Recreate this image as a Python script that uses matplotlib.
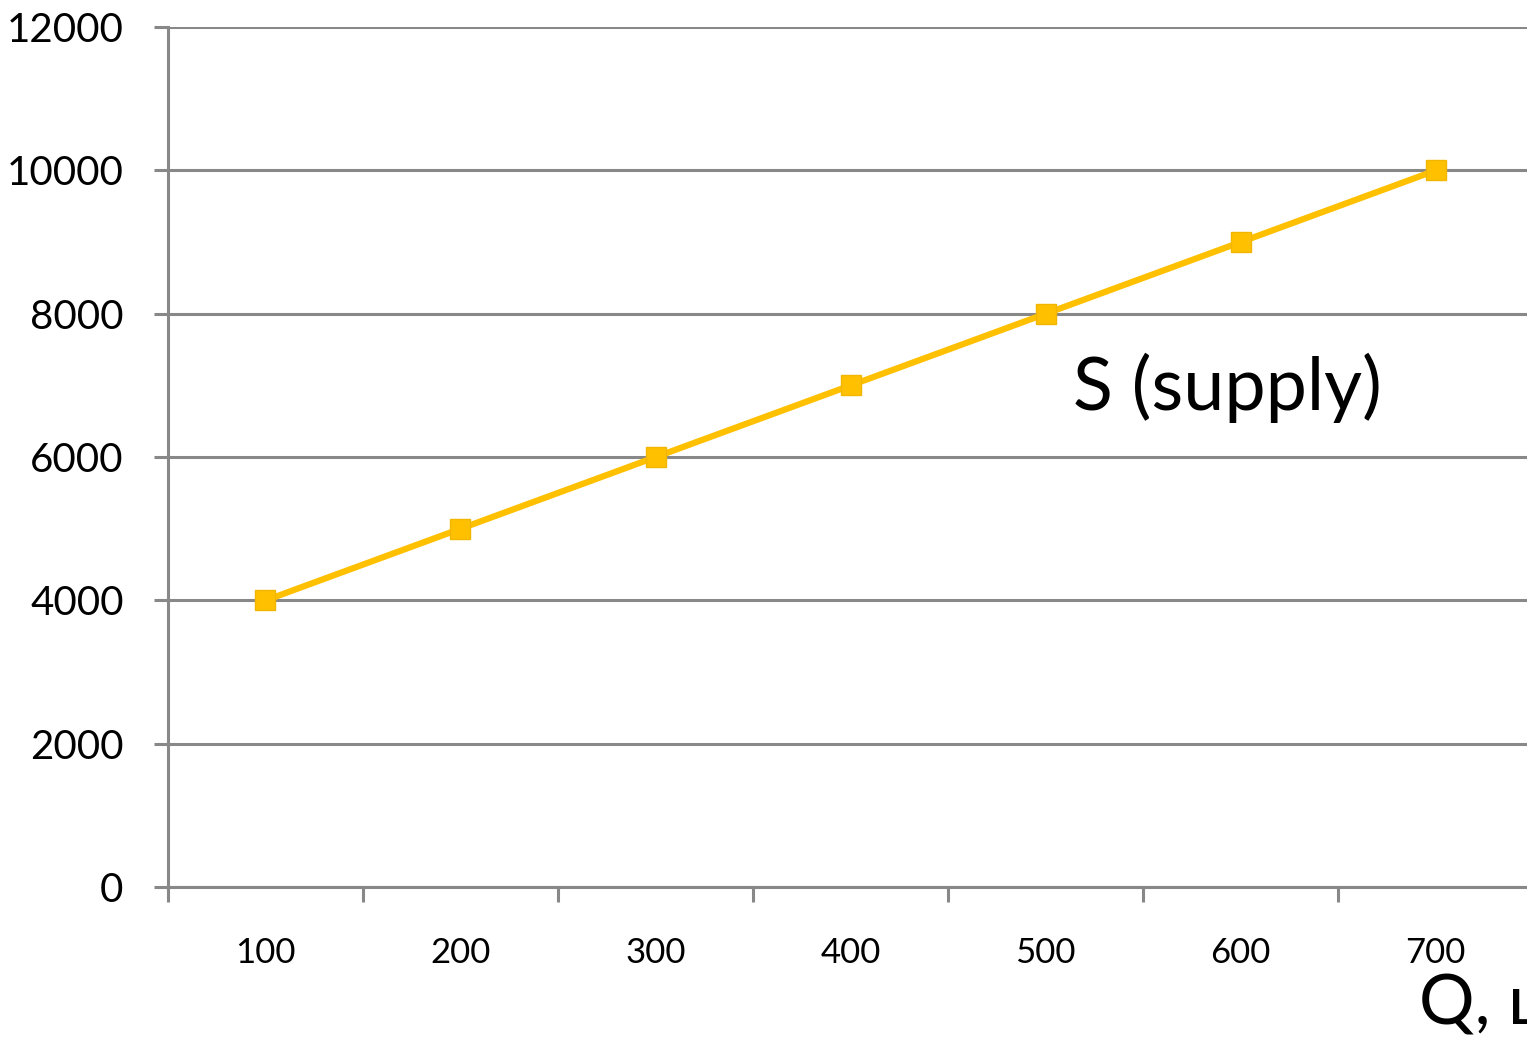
import matplotlib
matplotlib.use("Agg")
from matplotlib import pyplot as plt

# Supply schedule
quantities = ["100", "200", "300", "400", "500", "600", "700"]
prices = [4000, 5000, 6000, 7000, 8000, 9000, 10000]
y_ticks = [0, 2000, 4000, 6000, 8000, 10000, 12000]

plt.rcParams["font.family"] = ["Lato", "DejaVu Sans"]

fig = plt.figure(figsize=(15.27, 10.41), dpi=100)
# axes runs a little past the right edge, as in the cropped original
ax = fig.add_axes([0.110, 0.1479, 0.894, 0.826])

positions = list(range(len(quantities)))
ax.plot(
    positions,
    prices,
    color="#FFC000",
    linewidth=4.5,
    marker="s",
    markersize=15,
    markerfacecolor="#FFC000",
    markeredgecolor="#F2B600",
    markeredgewidth=1,
    zorder=3,
)

ax.set_xlim(-0.5, len(quantities) - 0.5)
ax.set_ylim(0, 12000)
ax.set_yticks(y_ticks)
ax.set_yticklabels([str(v) for v in y_ticks], fontsize=29)

# category axis: ticks at boundaries, labels at centres
ax.set_xticks([p - 0.5 for p in positions] + [len(quantities) - 0.5])
ax.set_xticklabels([])
ax.set_xticks(positions, minor=True)
ax.set_xticklabels(quantities, minor=True, fontsize=25)
ax.tick_params(axis="x", which="minor", length=0, pad=36)
ax.tick_params(axis="x", which="major", length=11, width=2.2, color="#888888")
ax.tick_params(axis="y", length=10, width=2.2, color="#888888", pad=22)

ax.yaxis.grid(True, color="#888888", linewidth=2.2)
ax.set_axisbelow(True)
for side in ["top", "right"]:
    ax.spines[side].set_visible(False)
for side in ["left", "bottom"]:
    ax.spines[side].set_color("#888888")
    ax.spines[side].set_linewidth(2.2)

ax.text(4.14, 6480, "S (supply)", fontsize=53, ha="left", va="bottom")
fig.text(0.929, 0.004, "Q, шт", fontsize=50, ha="left", va="bottom")

plt.savefig("out.png", dpi=100)
